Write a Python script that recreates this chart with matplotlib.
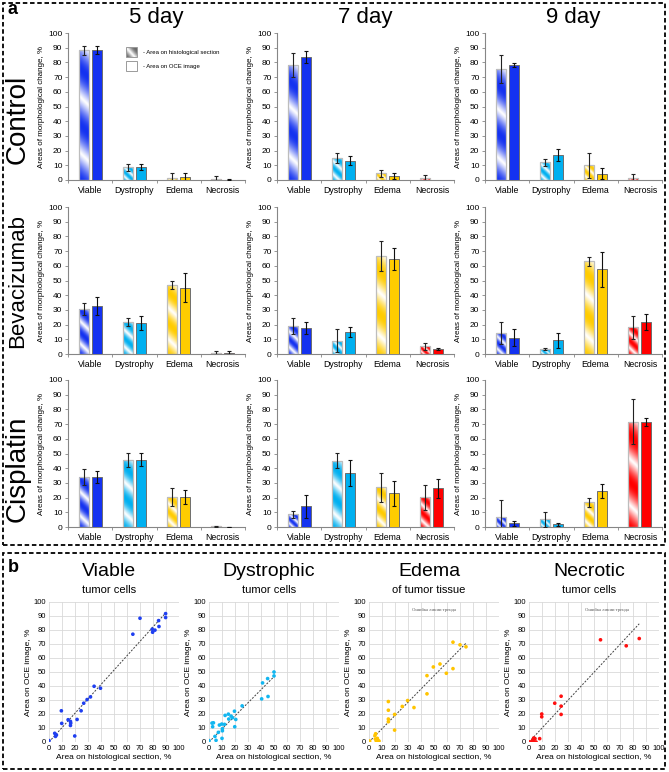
import matplotlib
matplotlib.use('Agg')
import matplotlib.pyplot as plt
from matplotlib.colors import to_rgb
from matplotlib.patches import Rectangle
import numpy as np

plt.rcParams['font.family'] = ['Liberation Sans', 'DejaVu Sans']

W, H = 669, 772

categories = ['Viable', 'Dystrophy', 'Edema', 'Necrosis']
days = ['5 day', '7 day', '9 day']
treatments = ['Control', 'Bevacizumab', 'Cisplatin']
cat_colors = ['#1432F0', '#00B0F0', '#FFCC00', '#FF0000']

# rows: day 5, 7, 9 ; columns: Viable, Dystrophy, Edema, Necrosis
hist_control = [[88.2, 8.6, 1.1, 0.7], [78.2, 15.0, 4.5, 1.1], [75.5, 12.0, 10.2, 1.1]]
hist_control_err = [[3.0, 2.3, 3.4, 2.0], [8.0, 3.6, 2.3, 2.1], [9.5, 2.6, 8.5, 3.0]]
oce_control = [[88.6, 8.6, 2.0, 0.2], [83.6, 13.2, 2.7, 0.0], [78.2, 17.0, 4.3, 0.0]]
oce_control_err = [[2.6, 2.0, 3.0, 0.3], [4.1, 3.2, 1.9, 0.0], [1.4, 3.9, 3.7, 0.0]]

hist_bev = [[30.7, 21.6, 46.8, 0.7], [19.1, 9.1, 66.6, 5.2], [14.1, 3.2, 63.2, 18.2]]
hist_bev_err = [[4.0, 2.7, 2.8, 1.6], [5.3, 7.6, 10.4, 2.5], [7.6, 0.6, 3.0, 7.7]]
oce_bev = [[32.5, 21.1, 45.2, 0.7], [17.7, 14.8, 64.5, 3.2], [11.1, 9.5, 57.7, 21.6]]
oce_bev_err = [[6.2, 5.0, 10.0, 1.5], [4.4, 3.5, 7.5, 0.8], [5.8, 5.1, 12.0, 5.5]]

hist_cis = [[33.9, 45.4, 20.5, 0.5], [8.6, 45.1, 26.9, 20.1], [6.5, 5.2, 16.7, 71.6]]
hist_cis_err = [[5.6, 4.7, 5.9, 0.5], [2.6, 5.0, 10.0, 8.6], [11.8, 5.0, 3.3, 15.3]]
oce_cis = [[33.9, 45.8, 20.5, 0.1], [14.2, 36.8, 23.0, 26.2], [2.5, 2.0, 24.2, 71.6]]
oce_cis_err = [[4.2, 4.3, 5.0, 0.2], [7.8, 8.8, 8.4, 6.5], [1.9, 1.0, 4.8, 2.7]]

hist_all = [hist_control, hist_bev, hist_cis]
hist_err_all = [hist_control_err, hist_bev_err, hist_cis_err]
oce_all = [oce_control, oce_bev, oce_cis]
oce_err_all = [oce_control_err, oce_bev_err, oce_cis_err]

# scatter data (panel b)
scatter_titles = ['Viable', 'Dystrophic', 'Edema', 'Necrotic']
scatter_subtitles = ['tumor cells', 'tumor cells', 'of tumor tissue', 'tumor cells']
scatter_colors = ['#1F3FF0', '#12B6F0', '#FFC400', '#FF1010']

viable_x = [0, 4.4, 5.7, 5, 9.5, 9.8, 14.7, 16.5, 16.7, 16.5, 19.8, 21.6, 24.7, 26.7, 29.3,
            31.9, 34.7, 39.6, 64.5, 70, 79.4, 79.7, 81.5, 84.3, 84.6, 89.7, 89.7]
viable_y = [1, 6.2, 5, 4, 22.3, 13.3, 15.9, 14.7, 13.5, 11.8, 4.3, 16.1, 22.3, 27.7, 30.3,
            32.2, 39.8, 38.4, 77, 88.4, 80.6, 78.4, 79.9, 86.7, 82.5, 91.7, 88.9]
dystro_x = [0, 2.3, 3.4, 2.8, 4.6, 5.4, 7.2, 8, 9.8, 10.3, 10.3, 10, 11.9, 12.4, 14.9, 15.2,
            17, 18, 19.6, 19.8, 20.6, 25.5, 40.5, 41.2, 45.4, 45.1, 50, 50]
dystro_y = [1, 13.5, 13.7, 10.9, 4, 1.2, 6.9, 12.1, 12.8, 9.5, 8, 2.6, 12.6, 19, 19.9, 16.4,
            18.5, 17.3, 22, 10.9, 16.1, 25.8, 30.8, 42.2, 32.5, 45.3, 50, 47.2]
edema_x = [0, 0.5, 4.6, 5.1, 4.9, 5.6, 6.7, 7.7, 6.4, 14.9, 14.9, 14.9, 14.9, 19.7, 19.7,
           25.6, 29.7, 34.6, 44.6, 44.6, 49.5, 54.6, 59.5, 64.6, 64.6, 70, 74.6]
edema_y = [0, 0.7, 4.7, 5.9, 2.1, 0.7, 1.4, 0.7, 2.6, 28.9, 22.7, 16.4, 14.5, 19.7, 8.5,
           25.4, 29.6, 24.6, 34.4, 47.4, 53.6, 55.7, 49.1, 52.4, 71.3, 69.4, 68]
necro_x = [0, 1, 2.8, 3, 3.6, 4.1, 4.6, 5.4, 8.2, 9.8, 9.8, 19.8, 24.7, 24.7, 24.7, 55, 74.8, 84.8]
necro_y = [0, 0, 1.2, 1.2, 2.8, 0, 2.4, 0, 2.4, 20, 18, 27.7, 32.7, 25.6, 19.7, 73, 68.7, 73.9]

scatter_x = [viable_x, dystro_x, edema_x, necro_x]
scatter_y = [viable_y, dystro_y, edema_y, necro_y]


def frac_rect(left, top, width, height):
    return [left / W, 1 - (top + height) / H, width / W, height / H]


def stripe_img(color, w_px, h_px, n=2.5):
    xs = np.linspace(0, w_px, max(int(w_px * 3), 4))
    ys = np.linspace(0, h_px, max(int(h_px * 3), 4))
    X, Y = np.meshgrid(xs, ys)
    t = 0.5 + 0.5 * np.cos(2 * np.pi * n * (X + Y) / (w_px + h_px))
    m = t ** 0.6
    base = np.array(to_rgb(color))
    return 1 - m[..., None] * (1 - base)


fig = plt.figure(figsize=(W / 100, H / 100), dpi=100)

# dashed frames
for (x0, y0, x1, y1) in [(3, 3, 665, 545), (3, 553, 665, 769)]:
    fig.add_artist(Rectangle((x0 / W, 1 - y1 / H), (x1 - x0) / W, (y1 - y0) / H,
                             transform=fig.transFigure, fill=False, edgecolor='black',
                             linewidth=1.3, linestyle=(0, (2.5, 1.5))))

fig.text(8 / W, 1 - 10 / H, 'a', fontsize=13, fontweight='bold', va='center', ha='left')
fig.text(8 / W, 1 - 568 / H, 'b', fontsize=13, fontweight='bold', va='center', ha='left')

col_left = [68, 277, 485]
row_top = [33, 207, 380]
ax_w, ax_h = 177, 147
row_label_y = [119, 281, 469]
row_label_size = [20, 16, 20]
bar_w = 0.23
off = 0.147
xpos = np.arange(len(categories))

for r, treat in enumerate(treatments):
    fig.text(18 / W, 1 - row_label_y[r] / H, treat, rotation=90, fontsize=row_label_size[r],
             ha='center', va='center')
    for c, day in enumerate(days):
        ax = fig.add_axes(frac_rect(col_left[c], row_top[r], ax_w, ax_h))
        hist = hist_all[r][c]
        hist_err = hist_err_all[r][c]
        oce = oce_all[r][c]
        oce_err = oce_err_all[r][c]
        px_x = ax_w / 4.0
        px_y = ax_h / 100.0
        hb = ax.bar(xpos - off, hist, bar_w, facecolor='none', edgecolor='#BDBDBD',
                    linewidth=0.9, zorder=3)
        for k, bar in enumerate(hb):
            if hist[k] <= 0:
                continue
            img = stripe_img(cat_colors[k], bar_w * px_x, hist[k] * px_y)
            x0 = bar.get_x()
            im = ax.imshow(img, extent=(x0, x0 + bar_w, 0, hist[k]), origin='lower',
                           aspect='auto', interpolation='bilinear', zorder=2)
            im.set_clip_path(bar)
        ax.bar(xpos + off, oce, bar_w, color=cat_colors, edgecolor='#6E6E6E',
               linewidth=0.7, zorder=3)
        for k in range(len(categories)):
            if hist_err[k] > 0:
                ax.errorbar(xpos[k] - off, hist[k], yerr=hist_err[k], fmt='none',
                            ecolor='#222222', elinewidth=0.8, capsize=1.6, capthick=0.8, zorder=4)
            if oce_err[k] > 0:
                ax.errorbar(xpos[k] + off, oce[k], yerr=oce_err[k], fmt='none',
                            ecolor='#111111', elinewidth=0.8, capsize=1.6, capthick=0.8, zorder=4)
        ax.set_xlim(-0.5, 3.5)
        ax.set_ylim(0, 100)
        ax.set_yticks(np.arange(0, 101, 10))
        ax.set_xticks(np.arange(-0.5, 3.6, 1.0))
        ax.set_xticklabels([])
        ax.set_xticks(xpos, minor=True)
        ax.set_xticklabels(categories, minor=True, fontsize=6.3)
        ax.tick_params(axis='x', which='major', length=2.5, width=0.6, color='#868686')
        ax.tick_params(axis='x', which='minor', length=0, pad=4)
        ax.tick_params(axis='y', length=2.5, width=0.6, color='#868686', labelsize=6, pad=1.5)
        for s in ['top', 'right']:
            ax.spines[s].set_visible(False)
        for s in ['left', 'bottom']:
            ax.spines[s].set_color('#868686')
            ax.spines[s].set_linewidth(0.8)
        ax.set_ylabel('Areas of morphological change, %', fontsize=5.8, labelpad=2)
        if r == 0:
            fig.text((col_left[c] + ax_w / 2) / W, 1 - 18 / H, day, fontsize=16,
                     ha='center', va='center')
        if r == 0 and c == 0:
            # legend
            leg_x, leg_w = 0.33, 0.062
            for j, (yy, lab) in enumerate([(0.87, '- Area on histological section'),
                                           (0.775, '- Area on OCE image')]):
                rect = Rectangle((leg_x, yy - 0.035), leg_w, 0.07, transform=ax.transAxes,
                                 facecolor='none' if j == 0 else 'white', edgecolor='#9A9A9A',
                                 linewidth=0.7, zorder=5)
                ax.add_patch(rect)
                if j == 0:
                    gimg = stripe_img('#6A6A6A', 11, 10, n=1.2)
                    gim = ax.imshow(gimg, extent=(leg_x, leg_x + leg_w, yy - 0.035, yy + 0.035),
                                    transform=ax.transAxes, origin='lower', aspect='auto',
                                    interpolation='bilinear', zorder=4)
                    gim.set_clip_path(rect)
                ax.text(leg_x + leg_w + 0.03, yy, lab, transform=ax.transAxes, fontsize=4.3,
                        va='center', ha='left')
            ax.set_xlim(-0.5, 3.5)
            ax.set_ylim(0, 100)

# panel b
sc_left = [49, 209, 369, 529]
sc_top, sc_w, sc_h = 602, 130, 140
for i in range(4):
    ax = fig.add_axes(frac_rect(sc_left[i], sc_top, sc_w, sc_h))
    xs = np.array(scatter_x[i])
    ys = np.array(scatter_y[i])
    slope = np.sum(xs * ys) / np.sum(xs * xs)
    xl = np.array([0, xs.max()])
    ax.plot(xl, slope * xl, linestyle=(0, (2, 1.5)), color='#404040', linewidth=0.7, zorder=2)
    ax.scatter(xs, ys, s=7, color=scatter_colors[i], edgecolors='none', zorder=3)
    ax.set_xlim(0, 100)
    ax.set_ylim(0, 100)
    ax.set_xticks(np.arange(0, 101, 10))
    ax.set_yticks(np.arange(0, 101, 10))
    ax.grid(True, color='#D9D9D9', linewidth=0.6)
    ax.set_axisbelow(True)
    for s in ax.spines.values():
        s.set_visible(False)
    ax.tick_params(length=0, labelsize=5.5, pad=2)
    ax.set_xlabel('Area on histological section, %', fontsize=6, labelpad=1.5)
    ax.set_ylabel('Area on OCE image, %', fontsize=6, labelpad=1.5)
    cx = (sc_left[i] + sc_w / 2 - 5) / W
    fig.text(cx, 1 - 572 / H, scatter_titles[i], fontsize=14, ha='center', va='center')
    fig.text(cx, 1 - 590 / H, scatter_subtitles[i], fontsize=8, ha='center', va='center')
    if i >= 2:
        ax.text(50 if i == 2 else 60, 94, 'Ошибка линии тренда', fontsize=3.3,
                family=['Liberation Serif', 'DejaVu Serif'], color='#555555',
                ha='center', va='center')

fig.savefig('out.png', dpi=100)
